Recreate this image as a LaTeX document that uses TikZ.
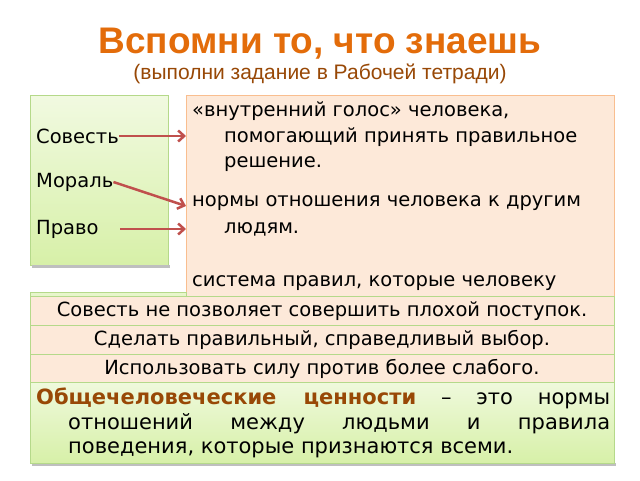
\documentclass[tikz,border=0pt]{standalone}
\usepackage{fontspec}
\setmainfont{DejaVu Sans}
\newfontfamily\titlefont{Liberation Sans}
\usetikzlibrary{arrows.meta}
\definecolor{orng}{HTML}{E36C0A}
\definecolor{brn}{HTML}{984806}
\definecolor{peach}{HTML}{FDE9D9}
\definecolor{peachb}{HTML}{F9BE8F}
\definecolor{grn}{HTML}{D7F0A8}
\definecolor{grnb}{HTML}{B5D98A}
\definecolor{arr}{HTML}{C0504D}
\tikzset{
 peachbox/.style={fill=peach,draw=peachb,line width=0.8pt},
 greenbox/.style={top color=grn!35,bottom color=grn,draw=grnb,line width=0.8pt},
 rowbox/.style={fill=peach,draw=grnb,line width=0.8pt},
 lbl/.style={anchor=west,inner sep=0pt,font=\fontsize{19.5}{22}\selectfont},
 rowtxt/.style={font=\fontsize{19.5}{22}\selectfont},
 deftxt/.style={anchor=west,inner sep=0pt,font=\fontsize{21}{24}\selectfont},
 conn/.style={arr,line width=2.5pt,-{Straight Barb[length=6pt,width=11pt]}},
}
\begin{document}
\begin{tikzpicture}[x=1pt,y=-1pt]
\useasboundingbox (0,0) rectangle (640,480);
\fill[white] (0,0) rectangle (640,480);
\node[font=\titlefont\bfseries\fontsize{37}{40}\selectfont,text=orng] (title) at (320,44) {Вспомни то, что знаешь};
\node[font=\titlefont\fontsize{21}{24}\selectfont,text=brn] (sub) at (320,74) {(выполни задание в Рабочей тетради)};
% green box
\draw[greenbox] (30,95) rectangle (168,265);
\fill[black!25] (32,265) rectangle (170,268);
\node[lbl] (sov) at (36,136) {Совесть};
\node[lbl] (mor) at (36,182) {Мораль};
\node[lbl] (pra) at (36,229) {Право};
% peach box
\draw[peachbox] (186,95) rectangle (614,305);
\node[lbl] (d1) at (192,111) {«внутренний голос» человека,};
\node[lbl] at (224,137) {помогающий принять правильное};
\node[lbl] at (224,164) {решение.};
\node[lbl] (d2) at (192,203) {нормы отношения человека к другим};
\node[lbl] at (224,229) {людям.};
\node[lbl] (d3) at (192,283) {система правил, которые человеку};
\coordinate (t1) at (186,136);
\coordinate (t2) at (186,206);
\coordinate (t3) at (186,229);
\coordinate (s3) at (120,229);
\draw[conn] (sov.east) -- (t1);
\draw[conn] (mor.east) -- (t2);
\draw[conn] (s3) -- (t3);
% strip
\draw[fill=grn!60,draw=grnb] (30,292) rectangle (186,298);
% rows
\draw[rowbox] (30,296) rectangle (614,325);
\node[rowtxt] (r1) at (322,311) {Совесть не позволяет совершить плохой поступок.};
\draw[rowbox] (30,325) rectangle (614,354);
\node[rowtxt] (r2) at (322,340) {Сделать правильный, справедливый выбор.};
\draw[rowbox] (30,354) rectangle (614,382);
\node[rowtxt] (r3) at (322,369) {Использовать силу против более слабого.};
\fill[black!25] (32,463) rectangle (616,466);
\draw[greenbox,top color=grn!40] (30,382) rectangle (614,463);
\node[deftxt] (def1) at (36,398) {\makebox[574pt][s]{\textcolor{brn}{\textbf{Общечеловеческие ценности}} – это нормы}};
\node[deftxt] (def2) at (68,424) {\makebox[542pt][s]{отношений между людьми и правила}};
\node[deftxt] (def3) at (68,450) {поведения, которые признаются всеми.};
\end{tikzpicture}
\end{document}
